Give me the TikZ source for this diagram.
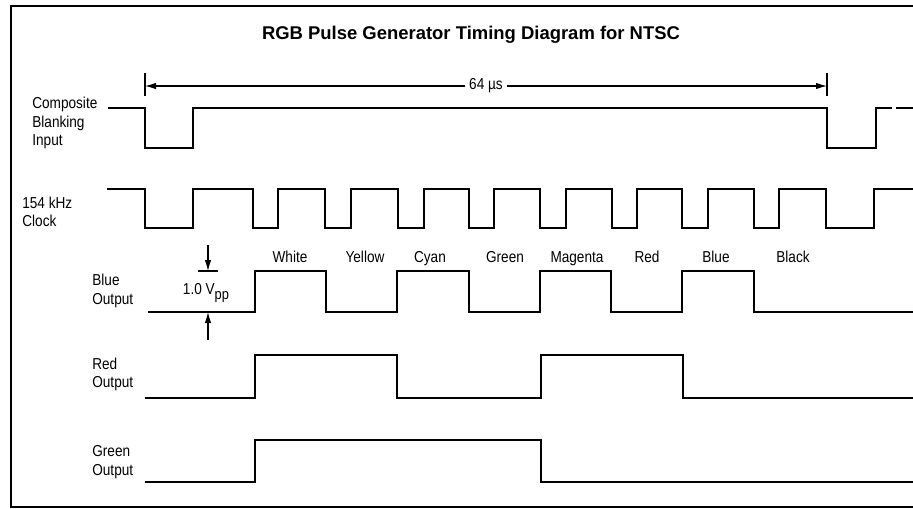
\documentclass[tikz,border=0pt]{standalone}
\usepackage{fontspec}
\setmainfont{Liberation Sans}
\newfontfamily\narrowsf{Liberation Sans}[FakeStretch=0.86]
\usetikzlibrary{arrows.meta}

\begin{document}
\begin{tikzpicture}[
    x=0.2mm, y=-0.2mm,
    >={Latex[length=2.2mm,width=1.3mm]},
    signal/.style={line width=1pt},
    frame line/.style={line width=1.1pt},
    dim line/.style={->,line width=0.6pt},
    tick line/.style={line width=0.6pt},
    sig label/.style={anchor=west,align=left,inner sep=0pt,font=\narrowsf\fontsize{9}{10.4}\selectfont},
    colour label/.style={anchor=base,inner sep=0pt,font=\narrowsf\fontsize{9}{10.4}\selectfont}
  ]
    \useasboundingbox (0,0) rectangle (913,508);

    % Frame (open on the right, as cut in the original)
    \draw[frame line] (913,6) -- (11,6) -- (11,507) -- (913,507);

    \node[font=\bfseries\fontsize{10.5}{12}\selectfont] (title) at (471,35)
      {RGB Pulse Generator Timing Diagram for NTSC};

    % 64 us line period
    \coordinate (tL) at (145,86);
    \coordinate (tR) at (827,86);
    \node[font=\narrowsf\fontsize{9}{10.4}\selectfont,fill=white,inner sep=2pt] (period) at (486,86) {64 µs};
    \draw[dim line] (period) -- (tL);
    \draw[dim line] (period) -- (tR);
    \draw[tick line] (tL) ++(0,-13) -- ++(0,23);
    \draw[tick line] (tR) ++(0,-13) -- ++(0,23);

    % Signal names
    \node[sig label] (blank) at (32,123) {Composite\\Blanking\\Input};
    \node[sig label] (clock) at (22,211.5) {154 kHz\\Clock};
    \node[sig label] (blue)  at (92,291) {Blue\\Output};
    \node[sig label] (red)   at (92,374.5) {Red\\Output};
    \node[sig label] (green) at (92,462) {Green\\Output};

    % Composite blanking input
    \draw[signal] (108,108) -- (145,108) -- (145,148) -- (193,148) -- (193,108)
      -- (827,108) -- (827,148) -- (876,148) -- (876,108) -- (892,108)
      (896,108) -- (913,108);

    % 154 kHz clock
    \draw[signal] (107,189) -- (145,189) -- (145,228) -- (193,228) -- (193,189)
      -- (253,189) -- (253,228) -- (278,228) -- (278,189)
      -- (325,189) -- (325,228) -- (351,228) -- (351,189)
      -- (398,189) -- (398,228) -- (424,228) -- (424,189)
      -- (469,189) -- (469,228) -- (494,228) -- (494,189)
      -- (540,189) -- (540,228) -- (566,228) -- (566,189)
      -- (612,189) -- (612,228) -- (637,228) -- (637,189)
      -- (682,189) -- (682,228) -- (708,228) -- (708,189)
      -- (754,189) -- (754,228) -- (779,228) -- (779,189)
      -- (826,189) -- (826,228) -- (874,228) -- (874,189) -- (913,189);

    % Colour bars
    \node[colour label] (cWhite)   at (290,262) {White};
    \node[colour label] (cYellow)  at (365,262) {Yellow};
    \node[colour label] (cCyan)    at (430,262) {Cyan};
    \node[colour label] (cGreen)   at (505,262) {Green};
    \node[colour label] (cMagenta) at (577,262) {Magenta};
    \node[colour label] (cRed)     at (647,262) {Red};
    \node[colour label] (cBlue)    at (716,262) {Blue};
    \node[colour label] (cBlack)   at (793,262) {Black};

    % Blue output
    \draw[signal] (148,312) -- (255,312) -- (255,271) -- (326,271) -- (326,312)
      -- (397,312) -- (397,271) -- (469,271) -- (469,312)
      -- (540,312) -- (540,271) -- (611,271) -- (611,312)
      -- (682,312) -- (682,271) -- (754,271) -- (754,312) -- (913,312);

    % 1.0 Vpp amplitude
    \coordinate (vTop) at (208,271);
    \coordinate (vBot) at (208,312);
    \coordinate (vTopIn) at (208,245);
    \coordinate (vBotIn) at (208,340);
    \draw[dim line] (vTopIn) -- (vTop);
    \draw[dim line] (vBotIn) -- (vBot);
    \draw[tick line] (vTop) ++(-10,0) -- ++(20,0);
    \node[font=\narrowsf\fontsize{9}{10.4}\selectfont,inner sep=0pt] (vpp) at (206,293)
      {1.0 V{\fontsize{8.5}{9}\selectfont\raisebox{-0.55ex}{pp}}};

    % Red output
    \draw[signal] (145,398) -- (255,398) -- (255,355) -- (397,355) -- (397,398)
      -- (541,398) -- (541,355) -- (683,355) -- (683,398) -- (913,398);

    % Green output
    \draw[signal] (145,482) -- (255,482) -- (255,440) -- (541,440) -- (541,482) -- (913,482);

  \end{tikzpicture}
\end{document}
